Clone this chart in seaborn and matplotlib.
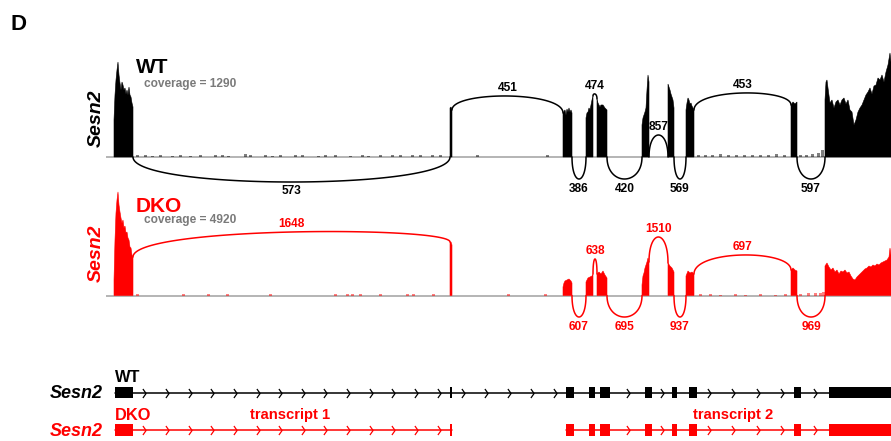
import numpy as np
import matplotlib
matplotlib.use("Agg")
import matplotlib.pyplot as plt
import seaborn as sns
from matplotlib.path import Path

sns.set_theme(style="white")
plt.rcParams['font.family'] = ['Liberation Sans', 'DejaVu Sans']
plt.rcParams['text.color'] = 'black'

# ---------------- data ----------------
# exon extents on the genomic axis (coverage tracks)
cov_exon_start = [114, 450, 563, 586, 597, 642, 668, 686, 791, 825]
cov_exon_end = [133, 452, 572, 593, 607, 649, 674, 694, 797, 891]

# WT read coverage (reads)
wt_cov_pos = [114, 115, 116, 117, 118, 119, 120, 121, 122, 123, 124, 125, 126, 127, 128, 129, 130, 131, 132, 133,
              450, 451, 452,
              563, 565, 566, 567, 568, 569, 570, 571, 572,
              586, 587, 588, 589, 590, 591, 592, 593,
              597, 598, 600, 601, 603, 605, 607,
              642, 643, 644, 645, 646, 647, 648, 649,
              668, 669, 670, 671, 672, 673, 674,
              686, 687, 688, 689, 690, 691, 692, 693, 694,
              791, 793, 795, 797,
              825, 826, 827, 828, 830, 832, 834, 836, 838, 840, 842, 844, 846, 848, 850, 852, 854, 856, 858,
              860, 862, 864, 866, 868, 870, 872, 874, 876, 878, 880, 882, 884, 886, 888, 890, 891]
wt_cov_val = [459, 769, 955, 1079, 1178, 1017, 918, 831, 930, 893, 831, 856, 781, 831, 769, 868, 769, 744, 670, 620,
              608, 620, 583,
              546, 583, 521, 595, 558, 608, 558, 583, 546,
              484, 546, 558, 608, 583, 645, 707, 756,
              720, 670, 620, 645, 645, 608, 583,
              397, 484, 521, 558, 608, 831, 1017, 930,
              905, 868, 831, 781, 744, 707, 608,
              583, 670, 732, 707, 657, 670, 632, 608, 583,
              645, 682, 657, 682,
              707, 930, 955, 856, 670, 707, 608, 682, 707, 645, 707, 732, 657, 707, 583, 558, 397, 459, 558,
              608, 645, 707, 769, 806, 856, 781, 880, 893, 980, 955, 1017, 930, 1054, 1141, 1290, 1178]

# DKO read coverage (reads)
dko_cov_pos = [114, 115, 116, 117, 118, 119, 120, 121, 122, 123, 124, 125, 126, 127, 128, 129, 130, 131, 132, 133,
               450, 451, 452,
               563, 564, 565, 567, 569, 571, 572,
               586, 588, 590, 592, 593,
               597, 599, 601, 603, 605, 607,
               642, 643, 644, 645, 646, 647, 648, 649,
               668, 670, 672, 674,
               686, 688, 690, 692, 694,
               791, 793, 795, 797,
               825, 827, 829, 831, 833, 835, 837, 839, 841, 843, 845, 847, 849, 851, 853, 855, 857, 859,
               861, 863, 865, 867, 869, 871, 873, 875, 877, 879, 881, 883, 885, 887, 889, 890, 891]
dko_cov_val = [736, 2636, 3919, 4536, 4920, 4299, 3966, 3681, 3444, 3586, 3206, 3301, 2969, 3016, 2731, 2636, 2304,
               2256, 1924, 1829,
               2541, 2541, 2400,
               404, 594, 689, 736, 784, 689, 594,
               641, 831, 879, 926, 1021,
               1021, 1116, 1021, 1164, 974, 831,
               499, 926, 1069, 1306, 1449, 1591, 1781, 1591,
               1544, 1401, 1306, 1116,
               926, 1164, 1069, 1116, 1021,
               1211, 1306, 1211, 1164,
               1401, 1544, 1354, 1211, 1306, 1116, 1211, 1021, 1164, 1116, 1211, 1069, 1116, 926, 784, 736, 879,
               974, 1069, 1164, 1259, 1306, 1401, 1354, 1449, 1401, 1496, 1449, 1544, 1591, 1639, 1686, 1829, 2256,
               1924]

# low intronic coverage (reads)
wt_bg_pos = [137, 145, 152, 160, 172, 180, 190, 200, 215, 222, 228, 245, 250, 265, 272, 280, 295, 302, 318, 325,
             335, 350, 362, 368, 380, 392, 400, 412, 420, 432, 440, 477, 547,
             698, 705, 712, 720, 728, 736, 744, 752, 760, 768, 776, 784, 800, 806, 812, 818, 822]
wt_bg_val = [20, 25, 15, 20, 18, 22, 15, 25, 20, 30, 15, 35, 25, 20, 18, 22, 30, 25, 15, 20,
             22, 18, 25, 15, 20, 22, 30, 25, 20, 28, 22, 20, 20,
             25, 30, 25, 35, 25, 30, 25, 20, 30, 25, 35, 30, 30, 25, 35, 50, 90]
dko_bg_pos = [137, 183, 208, 227, 270, 335, 347, 352, 360, 380, 407, 413, 433, 508, 545,
              700, 710, 720, 735, 745, 760, 775, 785, 800, 808, 815, 820, 823]
dko_bg_val = [60, 50, 50, 50, 60, 50, 60, 50, 60, 50, 60, 60, 50, 60, 80,
              50, 50, 40, 50, 40, 50, 40, 50, 90, 100, 110, 130, 150]

# splice junctions
wt_junc_start = [133, 452, 572, 593, 607, 649, 674, 694, 797]
wt_junc_end = [450, 563, 586, 597, 642, 668, 686, 791, 825]
wt_junc_reads = [573, 451, 386, 474, 420, 857, 569, 453, 597]
dko_junc_start = [133, 572, 593, 607, 649, 674, 694, 797]
dko_junc_end = [450, 586, 597, 642, 668, 686, 791, 825]
dko_junc_reads = [1648, 607, 638, 695, 1510, 937, 697, 969]

wt_max_cov = 1290
dko_max_cov = 4920

# gene model exons
model_exon_start = [115, 450, 566, 589, 600, 645, 672, 689, 794, 829]
model_exon_end = [133, 452, 574, 595, 610, 652, 677, 697, 801, 891]
dko_t1_exons = [0, 1]
dko_t2_exons = [2, 3, 4, 5, 6, 7, 8, 9]

# ---------------- layout ----------------
W, H = 891, 441
fig = plt.figure(figsize=(W / 100, H / 100), dpi=100)
RED = '#ff0000'
GRAY = '#a8a8a8'
TXTGRAY = '#7a7a7a'


def fx(x):
    return x / W


def fy(y):
    return 1 - y / H


def track_axes(top, bottom, base, k):
    ax = fig.add_axes([0, fy(bottom), 1, (bottom - top) / H])
    ax.set_xlim(0, W)
    ax.set_ylim(-(bottom - base) * k, (base - top) * k)
    ax.axis('off')
    return ax


def bezier(x1, y1, x2, y2, apex):
    h = (apex - 0.125 * (y1 + y2)) / 0.75
    t = np.linspace(0, 1, 120)
    x = (1 - t) ** 3 * x1 + 3 * (1 - t) ** 2 * t * x1 + 3 * (1 - t) * t ** 2 * x2 + t ** 3 * x2
    y = (1 - t) ** 3 * y1 + 3 * (1 - t) ** 2 * t * h + 3 * (1 - t) * t ** 2 * h + t ** 3 * y2
    return x, y


def draw_track(ax, pos, val, bg_pos, bg_val, js, je, jr, arc_px, k, color, label_color):
    pos = np.array(pos)
    val = np.array(val)
    ax.plot([106, W], [0, 0], color=GRAY, lw=1.2, zorder=1, solid_capstyle='butt')
    ax.bar(bg_pos, bg_val, width=3, color=color, alpha=0.5, lw=0, zorder=2)
    for s, e in zip(cov_exon_start, cov_exon_end):
        m = (pos >= s) & (pos <= e)
        xs = np.concatenate([[s], pos[m], [e]])
        ys = np.concatenate([[0], val[m], [0]])
        ax.fill(xs, ys, color=color, lw=0.4, zorder=3)
    for s, e, r, a in zip(js, je, jr, arc_px):
        apex = a * k
        if a > 0:
            y1 = np.interp(s, pos, val)
            y2 = np.interp(e, pos, val)
            if apex < max(y1, y2):
                y1 = y2 = 0
            x, y = bezier(s, y1, e, y2, apex)
            off = 8
        else:
            x, y = bezier(s, 0, e, 0, apex)
            off = -9.5
        sns.lineplot(x=x, y=y, ax=ax, sort=False, estimator=None, color=color, lw=1.1, zorder=4)
        ax.annotate(str(r), xy=((s + e) / 2, apex), xytext=(0, off * 0.72), textcoords='offset points',
                    ha='center', va='center', fontsize=8.6, fontweight='bold', color=label_color,
                    annotation_clip=False, zorder=5)


# WT coverage track
k_wt = 12.4
ax_wt = track_axes(40, 200, 157, k_wt)
wt_arc_px = [-25, 61, -22, 63, -22, 22, -22, 64, -22]
draw_track(ax_wt, wt_cov_pos, wt_cov_val, wt_bg_pos, wt_bg_val, wt_junc_start, wt_junc_end, wt_junc_reads,
           wt_arc_px, k_wt, 'black', 'black')

# DKO coverage track
k_dko = 47.5
ax_dko = track_axes(180, 345, 295.5, k_dko)
dko_arc_px = [63.5, -21.5, 36.5, -21.5, 58.5, -21.5, 40.5, -21.5]
draw_track(ax_dko, dko_cov_pos, dko_cov_val, dko_bg_pos, dko_bg_val, dko_junc_start, dko_junc_end,
           dko_junc_reads, dko_arc_px, k_dko, RED, RED)

# gene model
ax_g = fig.add_axes([0, 0, 1, (H - 355) / H])
ax_g.set_xlim(0, W)
ax_g.set_ylim(1 + (441 - 430) / 37.5, -(392.5 - 355) / 37.5)
ax_g.axis('off')
exh = 0.31
chev = Path([(-0.35, 1), (0.35, 0), (-0.35, -1)], [Path.MOVETO, Path.LINETO, Path.LINETO])


def draw_model(row, idx, color):
    s_list = [model_exon_start[i] for i in idx]
    e_list = [model_exon_end[i] for i in idx]
    ax_g.plot([s_list[0], e_list[-1]], [row, row], color=color, lw=1.1, zorder=1)
    for s, e in zip(s_list, e_list):
        ax_g.add_patch(plt.Rectangle((s, row - exh / 2), max(e - s, 1.6), exh, color=color, lw=0, zorder=3))
    for a, b in zip(e_list[:-1], s_list[1:]):
        L = b - a
        if L < 18:
            continue
        n = max(1, int(L // 22))
        xs = [a + L * (i + 0.5) / n for i in range(n)]
        ax_g.plot(xs, [row] * n, ls='none', marker=chev, markersize=6.5, markerfacecolor='none',
                  markeredgecolor=color, markeredgewidth=0.9, zorder=2)


draw_model(0, list(range(10)), 'black')
draw_model(1, dko_t1_exons, RED)
draw_model(1, dko_t2_exons, RED)

# ---------------- text ----------------
fig.text(fx(10), fy(30), 'D', fontsize=16, fontweight='bold', va='baseline', ha='left')

fig.text(fx(136), fy(73), 'WT', fontsize=15, fontweight='bold', va='baseline', ha='left')
fig.text(fx(144), fy(86.5), f'coverage = {wt_max_cov}', fontsize=8.6, fontweight='bold', color=TXTGRAY,
         va='baseline', ha='left')
fig.text(fx(96), fy(118), 'Sesn2', fontsize=14, fontweight='bold', style='italic', rotation=90,
         va='center', ha='center')

fig.text(fx(136), fy(212), 'DKO', fontsize=15, fontweight='bold', color=RED, va='baseline', ha='left')
fig.text(fx(144), fy(223.5), f'coverage = {dko_max_cov}', fontsize=8.6, fontweight='bold', color=TXTGRAY,
         va='baseline', ha='left')
fig.text(fx(96), fy(253), 'Sesn2', fontsize=14, fontweight='bold', style='italic', rotation=90, color=RED,
         va='center', ha='center')

fig.text(fx(103), fy(398), 'Sesn2', fontsize=13, fontweight='bold', style='italic', va='baseline', ha='right')
fig.text(fx(103), fy(436), 'Sesn2', fontsize=13, fontweight='bold', style='italic', color=RED,
         va='baseline', ha='right')
fig.text(fx(115), fy(382), 'WT', fontsize=11.8, fontweight='bold', va='baseline', ha='left')
fig.text(fx(115), fy(420), 'DKO', fontsize=11.8, fontweight='bold', color=RED, va='baseline', ha='left')
fig.text(fx(290), fy(419), 'transcript 1', fontsize=10.6, fontweight='bold', color=RED, va='baseline',
         ha='center')
fig.text(fx(733), fy(419), 'transcript 2', fontsize=10.6, fontweight='bold', color=RED, va='baseline',
         ha='center')

fig.savefig('out.png', dpi=100)
